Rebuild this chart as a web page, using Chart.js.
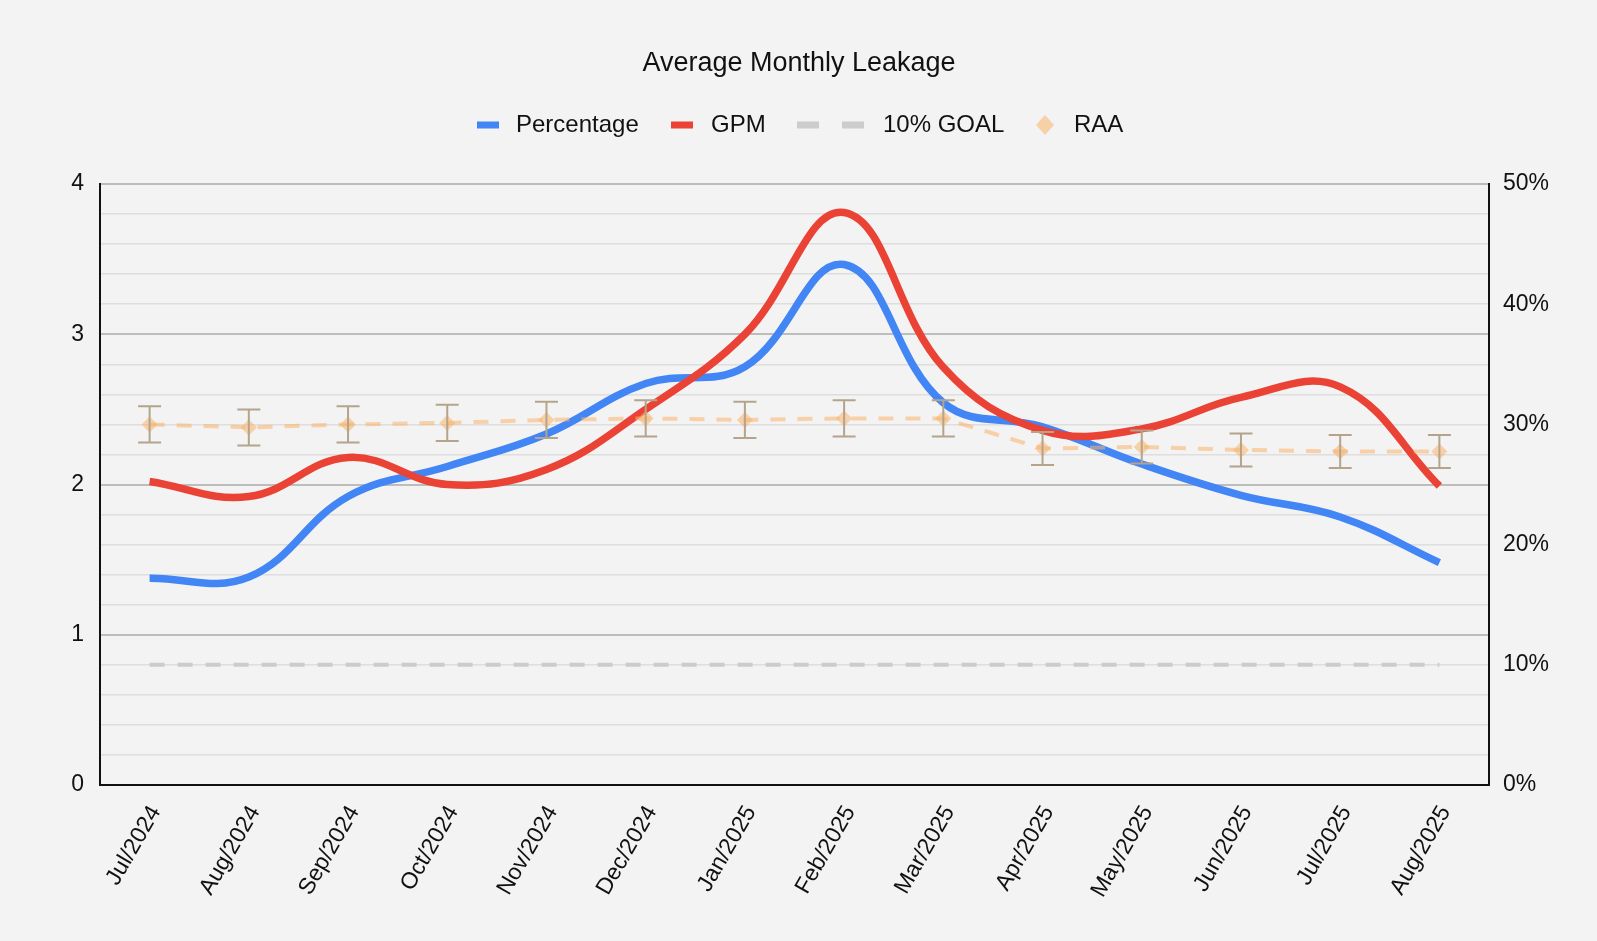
<!DOCTYPE html>
<html>
<head>
<meta charset="utf-8">
<title>Average Monthly Leakage</title>
<script src="https://cdn.jsdelivr.net/npm/chart.js@4.4.1/dist/chart.umd.min.js"></script>
<style>
  html, body { margin: 0; padding: 0; background: #f3f3f3; }
  #wrap { width: 1597px; height: 941px; }
</style>
</head>
<body>
<div id="wrap"><canvas id="leakChart" width="1597" height="941"></canvas></div>
<script>
// Datos
const months = ['Jul/2024', 'Aug/2024', 'Sep/2024', 'Oct/2024', 'Nov/2024', 'Dec/2024', 'Jan/2025',
                'Feb/2025', 'Mar/2025', 'Apr/2025', 'May/2025', 'Jun/2025', 'Jul/2025', 'Aug/2025'];
const percentage = [17.2, 17.3, 24.0, 26.5, 29.2, 33.4, 34.8, 43.3, 31.8, 29.8, 26.7, 24.1, 22.3, 18.5];
const gpm = [2.02, 1.92, 2.18, 2.00, 2.10, 2.50, 3.00, 3.81, 2.78, 2.36, 2.37, 2.58, 2.65, 1.99];
const goal = [10, 10, 10, 10, 10, 10, 10, 10, 10, 10, 10, 10, 10, 10];
const raa = [2.40, 2.38, 2.40, 2.41, 2.43, 2.44, 2.43, 2.44, 2.44, 2.24, 2.25, 2.23, 2.22, 2.22];
const raaErr = [0.12, 0.12, 0.12, 0.12, 0.12, 0.12, 0.12, 0.12, 0.12, 0.11, 0.11, 0.11, 0.11, 0.11];
const leftTicks = ['0', '1', '2', '3', '4'];
const rightTicks = ['0%', '10%', '20%', '30%', '40%', '50%'];

const FONT = 'Arial, "Liberation Sans", sans-serif';
const TEXT = '#111';
const RAA_COLOR = 'rgba(249, 178, 105, 0.55)';

// Fondo, título y leyenda
const decorPlugin = {
    id: 'decor',
    beforeDraw(chart) {
        const c = chart.ctx;
        c.save();
        c.fillStyle = '#f3f3f3';
        c.fillRect(0, 0, chart.width, chart.height);
        c.restore();
    },
    afterDraw(chart) {
        const c = chart.ctx;
        c.save();
        c.fillStyle = TEXT;
        c.font = '27px ' + FONT;
        c.textAlign = 'center';
        c.textBaseline = 'middle';
        c.fillText('Average Monthly Leakage', 799, 64);

        const ly = 125;
        c.font = '24px ' + FONT;
        c.textAlign = 'left';
        c.fillStyle = '#4285f4';
        c.fillRect(477, ly - 3.5, 22, 7);
        c.fillStyle = TEXT;
        c.fillText('Percentage', 516, ly);
        c.fillStyle = '#ea4335';
        c.fillRect(671, ly - 3.5, 22, 7);
        c.fillStyle = TEXT;
        c.fillText('GPM', 711, ly);
        c.fillStyle = '#cccccc';
        c.fillRect(797, ly - 3.5, 22, 7);
        c.fillRect(842, ly - 3.5, 22, 7);
        c.fillStyle = TEXT;
        c.fillText('10% GOAL', 883, ly);
        c.fillStyle = RAA_COLOR;
        c.beginPath();
        c.moveTo(1045, ly - 10);
        c.lineTo(1054, ly);
        c.lineTo(1045, ly + 10);
        c.lineTo(1036, ly);
        c.closePath();
        c.fill();
        c.fillStyle = TEXT;
        c.fillText('RAA', 1074, ly);
        c.restore();
    }
};

// Barras de error para RAA
const errorBarPlugin = {
    id: 'errorBars',
    afterDatasetsDraw(chart) {
        const c = chart.ctx;
        const xs = chart.scales.x;
        const ys = chart.scales.y;
        c.save();
        c.strokeStyle = '#b4a48c';
        c.lineWidth = 2;
        raa.forEach((v, i) => {
            const x = xs.getPixelForValue(i);
            const top = ys.getPixelForValue(v + raaErr[i]);
            const bot = ys.getPixelForValue(v - raaErr[i]);
            c.beginPath();
            c.moveTo(x, top); c.lineTo(x, bot);
            c.moveTo(x - 11.5, top); c.lineTo(x + 11.5, top);
            c.moveTo(x - 11.5, bot); c.lineTo(x + 11.5, bot);
            c.stroke();
        });
        c.restore();
    }
};

Chart.defaults.font.family = FONT;
Chart.defaults.color = TEXT;

const ctx = document.getElementById('leakChart').getContext('2d');
new Chart(ctx, {
    type: 'line',
    data: {
        labels: months,
        datasets: [
            {
                label: 'RAA',
                data: raa,
                yAxisID: 'y',
                borderColor: RAA_COLOR,
                backgroundColor: RAA_COLOR,
                borderWidth: 4,
                borderDash: [15, 12],
                pointStyle: 'rectRot',
                pointRadius: 8,
                pointBorderWidth: 0,
                tension: 0,
                order: 0
            },
            {
                label: 'GPM',
                data: gpm,
                yAxisID: 'y',
                borderColor: '#ea4335',
                borderWidth: 7.5,
                pointRadius: 0,
                tension: 0.4,
                order: 1
            },
            {
                label: 'Percentage',
                data: percentage,
                yAxisID: 'y1',
                borderColor: '#4285f4',
                borderWidth: 7.5,
                pointRadius: 0,
                tension: 0.4,
                order: 2
            },
            {
                label: '10% GOAL',
                data: goal,
                yAxisID: 'y1',
                borderColor: '#cccccc',
                borderWidth: 4,
                borderDash: [15, 13],
                pointRadius: 0,
                tension: 0,
                order: 3
            }
        ]
    },
    options: {
        responsive: false,
        animation: false,
        layout: { padding: { top: 184, left: 0, right: 0, bottom: 0 } },
        plugins: {
            legend: { display: false },
            title: { display: false },
            tooltip: { enabled: false }
        },
        scales: {
            x: {
                offset: true,
                grid: { display: false },
                border: { color: '#111', width: 2 },
                ticks: {
                    maxRotation: 60,
                    minRotation: 60,
                    padding: 8,
                    labelOffset: 6,
                    color: TEXT,
                    font: { size: 23 }
                },
                afterFit(scale) { scale.height = 156; }
            },
            y: {
                position: 'left',
                min: 0,
                max: 4,
                ticks: {
                    stepSize: 0.2,
                    autoSkip: false,
                    padding: 16,
                    color: TEXT,
                    font: { size: 23 },
                    callback: (v) => {
                        const r = Math.round(v * 5) / 5;
                        return Number.isInteger(r) ? leftTicks[r] : '';
                    }
                },
                grid: {
                    drawTicks: false,
                    color: (c) => Number.isInteger(Math.round(c.tick.value * 5) / 5) ? '#bdbdbd' : '#dedede',
                    lineWidth: (c) => Number.isInteger(Math.round(c.tick.value * 5) / 5) ? 2 : 1.5
                },
                border: { color: '#111', width: 2 },
                afterFit(scale) { scale.width = 100; }
            },
            y1: {
                position: 'right',
                min: 0,
                max: 50,
                ticks: {
                    stepSize: 10,
                    padding: 14,
                    color: TEXT,
                    font: { size: 23 },
                    callback: (v) => rightTicks[Math.round(v / 10)]
                },
                grid: { display: false, drawTicks: false },
                border: { color: '#111', width: 2 },
                afterFit(scale) { scale.width = 108; }
            }
        }
    },
    plugins: [decorPlugin, errorBarPlugin]
});
</script>
</body>
</html>
